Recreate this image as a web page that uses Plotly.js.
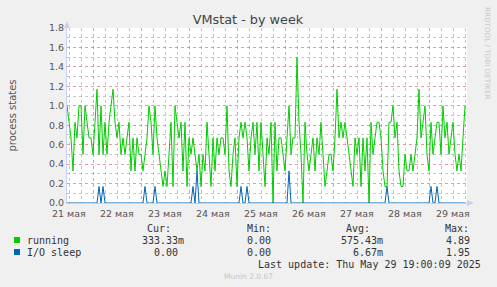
<!DOCTYPE html>
<html>
<head>
<meta charset="utf-8">
<script src="https://cdn.plot.ly/plotly-3.0.1.min.js"></script>
<style>
html,body{margin:0;padding:0;background:#f0f0f0;}
#chart{width:497px;height:287px;}
</style>
</head>
<body>
<div id="chart"></div>
<script>
// ---- data (hourly samples) ----
const startTime = '2025-05-21T11:00:00';
const endTime = '2025-05-29T19:00:00';
const stepHours = 1;

const dayTickDates = ['2025-05-21 12:00', '2025-05-22 12:00', '2025-05-23 12:00', '2025-05-24 12:00',
  '2025-05-25 12:00', '2025-05-26 12:00', '2025-05-27 12:00', '2025-05-28 12:00', '2025-05-29 12:00'];
const dayTickLabels = ['21 мая', '22 мая', '23 мая', '24 мая', '25 мая', '26 мая', '27 мая', '28 мая', '29 мая'];

const runningValues = [
  1.0,0.83,0.67,0.33,0.83,0.67,1.0,1.0,0.5,1.0,0.83,
  0.67,0.67,0.5,0.83,1.17,0.5,1.0,0.5,0.83,0.5,
  0.83,1.0,1.17,0.83,0.67,0.83,0.5,0.67,0.5,0.67,
  0.83,0.33,0.67,0.33,0.67,0.5,0.5,0.33,0.5,0.67,
  1.0,0.83,0.5,1.0,0.67,0.5,0.33,0.17,0.33,0.17,
  0.5,0.83,0.17,1.0,0.83,0.67,0.83,0.33,0.83,0.17,
  0.67,0.5,0.67,0.5,0.33,0.5,0.17,0.5,0.33,0.83,
  0.5,0.17,0.67,0.33,0.67,0.5,0.67,0.67,0.5,1.0,
  0.33,0.17,0.5,0.67,0.17,0.67,0.83,0.67,0.83,0.67,
  0.33,0.67,0.83,0.5,0.83,0.33,0.83,0.5,0.17,0.67,
  0.5,0.83,0.0,0.83,0.33,0.67,0.67,0.5,0.33,0.67,
  1.0,0.5,0.67,0.67,1.5,0.83,0.5,0.0,0.83,0.5,
  0.33,0.5,0.67,0.33,0.67,0.5,0.83,0.5,0.17,0.33,
  0.5,0.5,0.33,0.67,1.17,0.67,0.83,0.67,0.83,0.67,
  0.5,0.33,0.17,0.67,0.5,0.67,0.17,0.67,0.33,0.67,
  0.0,0.83,0.5,0.67,0.83,0.83,0.67,0.33,0.17,0.17,
  0.83,0.83,1.0,0.67,0.83,0.33,0.17,0.17,0.5,0.33,
  0.33,0.5,0.33,0.5,0.67,1.17,0.67,0.83,1.0,0.5,
  0.33,0.83,0.5,0.67,0.83,0.83,0.5,1.0,0.67,0.83,
  0.5,0.67,0.83,0.5,0.33,0.5,0.33,0.67,1.0
];

const ioSleepValues = [
  0,0,0,0,0,0,0,0,0,0, 0,0,0,0,0,0,0.17,0,0.17,0,
  0,0,0,0,0,0,0,0,0,0, 0,0,0,0,0,0,0,0,0,0.17,
  0,0,0,0,0.17,0,0,0,0,0, 0,0,0,0,0,0,0,0,0,0,
  0,0,0,0.17,0,0.33,0,0,0,0, 0,0,0,0,0,0,0,0,0,0,
  0,0,0,0,0,0,0,0.17,0,0, 0.17,0,0,0,0,0,0,0,0,0,
  0,0,0,0,0,0,0,0,0,0, 0,0.33,0,0,0,0,0,0,0,0,
  0,0,0,0,0,0,0,0,0,0, 0,0,0,0,0,0,0,0,0,0,
  0,0,0,0,0,0,0,0,0,0, 0,0,0,0,0,0,0,0,0,0,
  0.17,0,0,0,0,0,0,0,0,0, 0,0,0,0,0,0,0,0,0,0,
  0,0,0.17,0,0,0.17,0,0,0,0, 0,0,0,0,0,0,0,0,0,0
];

const seriesNames = ['running', 'I/O sleep'];
const legendHeaders = ['Cur:', 'Min:', 'Avg:', 'Max:'];
const runningStats = ['333.33m', '0.00', '575.43m', '4.89'];
const ioSleepStats = ['0.00', '0.00', '6.67m', '1.95'];
const lastUpdate = 'Last update: Thu May 29 19:00:09 2025';
const chartTitle = 'VMstat - by week';
const yTitle = 'process states';
const vendorText = 'RRDTOOL / TOBI OETIKER';
const footerText = 'Munin 2.0.67';

// ---- build time axis ----
function timesFor(n) {
  const base = Date.parse(startTime + 'Z');
  const out = [];
  for (let i = 0; i < n; i++) {
    out.push(new Date(base + i * stepHours * 3600000).toISOString().slice(0, 19).replace('T', ' '));
  }
  return out;
}
const xRun = timesFor(runningValues.length);
const xIo = timesFor(ioSleepValues.length);
const xRange = [startTime.replace('T', ' '), endTime.replace('T', ' ')];

const GREEN = '#00cc00';
const BLUE = '#0066b3';
const AXIS = '#c9cff5';
const MAJOR = 'rgba(225,120,120,0.75)';
const MINOR = 'rgba(175,175,175,0.7)';

// plot area in px: left 67, right 467, top 28, bottom 203
const PL = 67, PR = 467, PT = 28, PB = 203;
const px = v => (v - PL) / (PR - PL);
const py = v => (PB - v) / (PB - PT);

const traces = [
  {x: xRun, y: runningValues, type: 'scatter', mode: 'lines', name: seriesNames[0],
   line: {color: GREEN, width: 1}, hoverinfo: 'skip'},
  {x: xIo, y: ioSleepValues, type: 'scatter', mode: 'lines', name: seriesNames[1],
   line: {color: BLUE, width: 1}, hoverinfo: 'skip'}
];

const tickFont = {family: 'DejaVu Sans', size: 9.5, color: '#555555'};
const mono = {family: 'DejaVu Sans Mono', size: 10, color: '#333333'};
const annotations = [];
function addText(text, xPx, yPx, anchor, font) {
  annotations.push({text: text, xref: 'paper', yref: 'paper', x: px(xPx), y: py(yPx),
    xanchor: anchor, yanchor: 'middle', showarrow: false, font: font || mono, borderpad: 0});
}
// day labels, placed at noon of each day through the x axis scale
dayTickLabels.forEach((lab, i) => annotations.push({
  text: lab, xref: 'x', x: dayTickDates[i], yref: 'paper', y: py(213),
  xanchor: 'center', yanchor: 'middle', showarrow: false, font: tickFont, borderpad: 0}));
// legend header
const colRight = [172, 272, 371, 470];
legendHeaders.forEach((h, i) => addText(h, colRight[i], 228, 'right'));
// legend rows
const valRight = [185, 278, 384, 477];
addText(seriesNames[0], 26, 240, 'left');
addText(seriesNames[1], 26, 252, 'left');
runningStats.forEach((v, i) => addText(v + (v.endsWith('m') ? '' : ' '), valRight[i], 240, 'right'));
ioSleepStats.forEach((v, i) => addText(v + (v.endsWith('m') ? '' : ' '), valRight[i], 252, 'right'));
addText(lastUpdate, 482, 264, 'right');
addText(footerText, 248, 276, 'center', {family: 'DejaVu Sans', size: 7.5, color: '#c4c4c4'});
annotations.push({text: vendorText, xref: 'paper', yref: 'paper', x: px(488), y: py(53),
  xanchor: 'center', yanchor: 'middle', textangle: 90, showarrow: false,
  font: {family: 'DejaVu Sans', size: 7.2, color: '#c8c8c8'}});

const shapes = [
  // legend swatches
  {type: 'rect', xref: 'paper', yref: 'paper', x0: px(14), x1: px(20), y0: py(237), y1: py(243),
   fillcolor: GREEN, line: {width: 0}},
  {type: 'rect', xref: 'paper', yref: 'paper', x0: px(14), x1: px(20), y0: py(249), y1: py(255),
   fillcolor: BLUE, line: {width: 0}},
  // axis arrows
  {type: 'path', xref: 'paper', yref: 'paper',
   path: `M ${px(64)} ${py(28)} L ${px(70)} ${py(28)} L ${px(67)} ${py(21)} Z`,
   fillcolor: AXIS, line: {width: 0}},
  {type: 'path', xref: 'paper', yref: 'paper',
   path: `M ${px(467)} ${py(200)} L ${px(467)} ${py(206)} L ${px(474)} ${py(203)} Z`,
   fillcolor: AXIS, line: {width: 0}}
];

const layout = {
  width: 497, height: 287,
  paper_bgcolor: '#f0f0f0', plot_bgcolor: '#ffffff',
  margin: {l: PL, r: 497 - PR, t: PT, b: 287 - PB, pad: 0},
  showlegend: false,
  title: {text: chartTitle, x: px(248), xanchor: 'center', xref: 'paper',
    y: 1 - 20 / 287, yanchor: 'middle',
    font: {family: 'DejaVu Sans', size: 12.8, color: '#444444'}},
  // day (midnight) grid, 6-hour minor grid; day names drawn as annotations at noon
  xaxis: {
    type: 'date', range: xRange,
    tick0: '2025-05-22 00:00', dtick: 86400000, showticklabels: false, ticks: '',
    showgrid: true, gridcolor: MAJOR, griddash: 'dot', gridwidth: 1,
    minor: {dtick: 6 * 3600000, showgrid: true, gridcolor: MINOR, griddash: 'dot', gridwidth: 1, ticks: ''},
    showline: true, linecolor: AXIS, linewidth: 1, zeroline: false, fixedrange: true
  },
  yaxis: {
    range: [0, 1.8], dtick: 0.2, tick0: 0, tickformat: '.1f', tickfont: tickFont,
    ticks: '', showgrid: true, gridcolor: MAJOR, griddash: 'dot', gridwidth: 1,
    minor: {dtick: 0.1, showgrid: true, gridcolor: MINOR, griddash: 'dot', gridwidth: 1, ticks: ''},
    showline: true, linecolor: AXIS, linewidth: 1, zeroline: false, fixedrange: true,
    title: {text: yTitle, font: {family: 'DejaVu Sans', size: 10, color: '#555555'}, standoff: 30}
  },
  annotations: annotations,
  shapes: shapes
};

Plotly.newPlot('chart', traces, layout, {displayModeBar: false, staticPlot: true});
</script>
</body>
</html>
